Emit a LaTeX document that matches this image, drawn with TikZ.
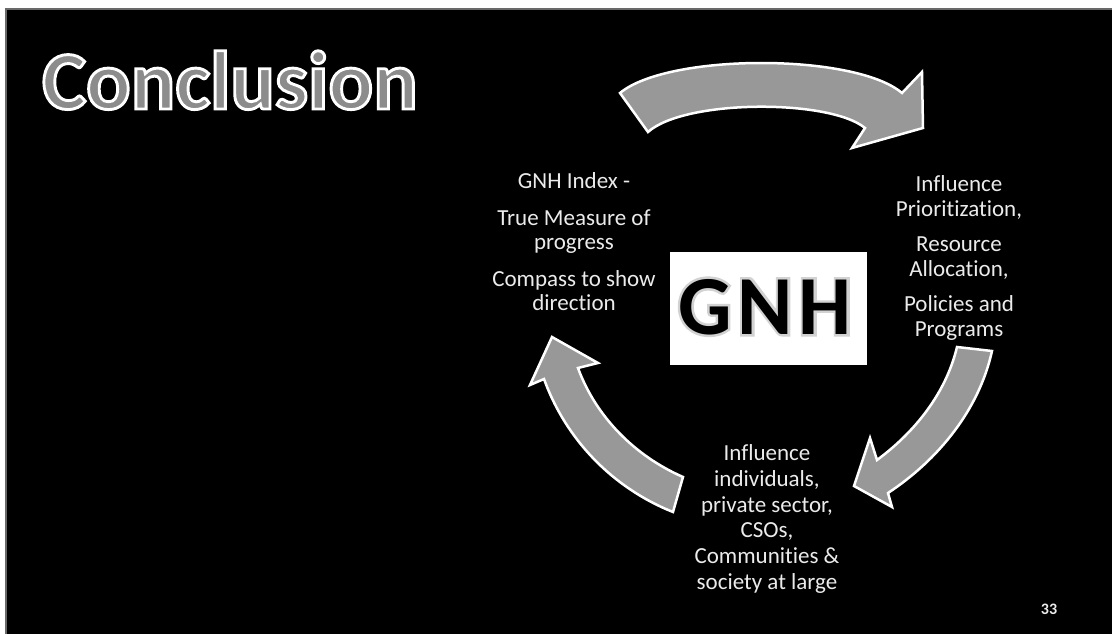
\documentclass[tikz,border=0pt]{standalone}
\usepackage{fontspec}
\setmainfont{Carlito}[Ligatures={NoCommon}]
\newfontfamily\titleface{Carlito}[BoldFont={* Bold}, BoldFeatures={FakeBold=3.5}, Ligatures={NoCommon}]
\newfontfamily\haloface{Carlito}[BoldFont={* Bold}, BoldFeatures={FakeBold=6}, Ligatures={NoCommon}]
\usetikzlibrary{calc}
\definecolor{arrowgray}{RGB}{152,152,152}
\definecolor{titlegray}{RGB}{140,140,140}
\definecolor{txt}{RGB}{235,235,235}
\definecolor{bordergray}{RGB}{105,105,105}
\definecolor{halogray}{RGB}{210,210,210}
\newcommand{\whitestroke}{\special{pdf:code 1 1 1 RG}}
\begin{document}
\begin{tikzpicture}[x=1pt,y=-1pt,
  arrowshape/.style={fill=arrowgray, draw=white, line width=2.5pt, line join=miter},
  titlefont/.style={font=\fontsize{83}{83}\selectfont\titleface\bfseries, inner sep=0pt, anchor=base west},
  gnhfont/.style={font=\fontsize{84}{84}\selectfont\bfseries, inner sep=0pt, anchor=base},
  halofont/.style={font=\fontsize{84}{84}\selectfont\haloface\bfseries, inner sep=0pt, anchor=base},
  bodytext/.style={text=txt, align=center, inner sep=0pt}]
\useasboundingbox (0,0) rectangle (1112,634);
\fill[white] (0,0) rectangle (1112,634);
\draw[fill=black, draw=bordergray, line width=2pt] (6,9) rectangle (1116,640);

% title: gray fill with white outline
\node[titlefont, text=titlegray] (title) at (42,109) {\whitestroke Conclusion};

% cycle arrows
\draw[arrowshape] (620,93) .. controls (668,53) and (855,53) .. (902,93)
  -- (922,72) -- (923,128) -- (852,148) -- (865,128)
  .. controls (830,99) and (685,99) .. (648,132) -- cycle;
\draw[arrowshape] (957,347) -- (992,351) .. controls (979,410) and (938,460) .. (888,493)
  -- (892,507) -- (854,486) -- (870,438) -- (877,460)
  .. controls (915,432) and (946,393) .. (957,347) -- cycle;
\draw[arrowshape] (683,477) -- (673,512) .. controls (613,488) and (566,440) .. (544,379)
  -- (530,385) -- (552,337) -- (598,363) -- (578,368)
  .. controls (596,417) and (635,456) .. (683,477) -- cycle;

% GNH box
\node[fill=white, minimum width=197pt, minimum height=113pt, inner sep=0pt] (box) at (768.5,308.5) {};
\node[halofont, text=halogray] (gnhhalo) at (765,334) {G\hspace{6pt}N\hspace{6pt}H};
\node[gnhfont, text=black] (gnh) at (765,334) {G\hspace{6pt}N\hspace{6pt}H};

% texts
\node[bodytext, font=\fontsize{23}{24}\selectfont] (left) at (574,242)
  {GNH Index -\\[13pt]True Measure of\\progress\\[13pt]Compass to show\\direction};
\node[bodytext, font=\fontsize{23}{24.5}\selectfont] (right) at (959,258)
  {Influence\\Prioritization,\\[11pt]Resource\\Allocation,\\[11pt]Policies and\\Programs};
\node[bodytext, font=\fontsize{23}{25.7}\selectfont] (bottom) at (767,519)
  {Influence\\individuals,\\private sector,\\CSOs,\\Communities \&\\society at large};
\node[text=txt, font=\fontsize{16}{16}\selectfont\bfseries, inner sep=0pt] (pagenum) at (1049,609) {33};
\end{tikzpicture}
\end{document}
